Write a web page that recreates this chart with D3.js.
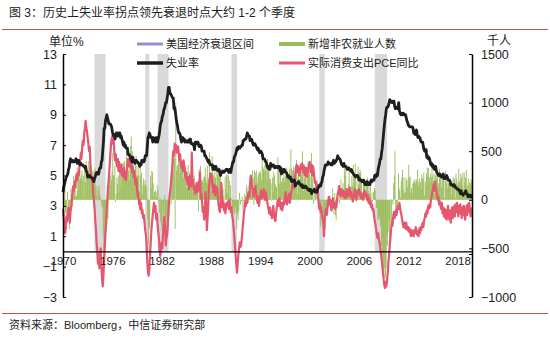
<!DOCTYPE html>
<html><head><meta charset="utf-8">
<script src="https://cdn.jsdelivr.net/npm/d3@7"></script>
<style>
body{margin:0;background:#fff;}
text{font-family:"Liberation Sans",Arial,"Noto Sans CJK SC",sans-serif;}
</style></head><body>
<svg id="c" width="550" height="340"></svg>
<script>
// ---- data ----
const startYear = 1970; // monthly series start Jan 1970
const xTicks = [1970,1976,1982,1988,1994,2000,2006,2012,2018];
const leftTicks = [13,11,9,7,5,3,1,-1,-3];
const rightTicks = [1500,1000,500,0,-500,-1000];
const recessions = [[1973.83,1975.17],[1980.0,1980.5],[1981.5,1982.83],[1990.5,1991.17],[2001.17,2001.83],[2007.92,2009.42]];

const unemployment = [
3.9,4.2,4.4,4.6,4.8,4.9,5.0,5.1,5.4,5.5,5.9,6.1,
5.9,5.9,6.0,5.9,5.9,5.9,6.0,6.1,6.0,5.8,6.0,6.0,
5.8,5.7,5.8,5.7,5.7,5.7,5.6,5.6,5.5,5.6,5.3,5.2,
4.9,5.0,4.9,5.0,4.9,4.9,4.8,4.8,4.8,4.6,4.8,4.9,
5.1,5.2,5.1,5.1,5.1,5.4,5.5,5.5,5.9,6.0,6.6,7.2,
8.1,8.1,8.6,8.8,9.0,8.8,8.6,8.4,8.4,8.4,8.3,8.2,
7.9,7.7,7.6,7.7,7.4,7.6,7.8,7.8,7.6,7.7,7.8,7.8,
7.5,7.6,7.4,7.2,7.0,7.2,6.9,7.0,6.8,6.8,6.8,6.4,
6.4,6.3,6.3,6.1,6.0,5.9,6.2,5.9,6.0,5.8,5.9,6.0,
5.9,5.9,5.8,5.8,5.6,5.7,5.7,6.0,5.9,6.0,5.9,6.0,
6.3,6.3,6.3,6.9,7.5,7.6,7.8,7.7,7.5,7.5,7.5,7.2,
7.5,7.4,7.4,7.2,7.5,7.5,7.2,7.4,7.6,7.9,8.3,8.5,
8.6,8.9,9.0,9.3,9.4,9.6,9.8,9.8,10.1,10.4,10.8,10.8,
10.4,10.4,10.3,10.2,10.1,10.1,9.4,9.5,9.2,8.8,8.5,8.3,
8.0,7.8,7.8,7.7,7.4,7.2,7.5,7.5,7.3,7.4,7.2,7.3,
7.3,7.2,7.2,7.3,7.2,7.4,7.4,7.1,7.1,7.1,7.0,7.0,
6.7,7.2,7.2,7.1,7.2,7.2,7.0,6.9,7.0,7.0,6.9,6.6,
6.6,6.6,6.6,6.3,6.3,6.2,6.1,6.0,5.9,6.0,5.8,5.7,
5.7,5.7,5.7,5.4,5.6,5.4,5.4,5.6,5.4,5.4,5.3,5.3,
5.4,5.2,5.0,5.2,5.2,5.3,5.2,5.2,5.3,5.3,5.4,5.4,
5.4,5.3,5.2,5.4,5.4,5.2,5.5,5.7,5.9,5.9,6.2,6.3,
6.4,6.6,6.8,6.7,6.9,6.9,6.8,6.9,6.9,7.0,7.0,7.3,
7.3,7.4,7.4,7.4,7.6,7.8,7.7,7.6,7.6,7.3,7.4,7.4,
7.3,7.1,7.0,7.1,7.1,7.0,6.9,6.8,6.7,6.8,6.6,6.5,
6.6,6.6,6.5,6.4,6.1,6.1,6.1,6.0,5.9,5.8,5.6,5.5,
5.6,5.4,5.4,5.8,5.6,5.6,5.7,5.7,5.6,5.5,5.6,5.6,
5.6,5.5,5.5,5.6,5.6,5.3,5.5,5.1,5.2,5.2,5.4,5.4,
5.3,5.2,5.2,5.1,4.9,5.0,4.9,4.8,4.9,4.7,4.6,4.7,
4.6,4.6,4.7,4.3,4.4,4.5,4.5,4.5,4.6,4.5,4.4,4.4,
4.3,4.4,4.2,4.3,4.2,4.3,4.3,4.2,4.2,4.1,4.1,4.0,
4.0,4.1,4.0,3.8,4.0,4.0,4.0,4.1,3.9,3.9,3.9,3.9,
4.2,4.2,4.3,4.4,4.3,4.5,4.6,4.9,5.0,5.3,5.5,5.7,
5.7,5.7,5.7,5.9,5.8,5.8,5.8,5.7,5.7,5.7,5.9,6.0,
5.8,5.9,5.9,6.0,6.1,6.3,6.2,6.1,6.1,6.0,5.8,5.7,
5.7,5.6,5.8,5.6,5.6,5.6,5.5,5.4,5.4,5.5,5.4,5.4,
5.3,5.4,5.2,5.2,5.1,5.0,5.0,4.9,5.0,5.0,5.0,4.9,
4.7,4.8,4.7,4.7,4.6,4.6,4.7,4.7,4.5,4.4,4.5,4.4,
4.6,4.5,4.4,4.5,4.4,4.6,4.7,4.6,4.7,4.7,4.7,5.0,
5.0,4.9,5.1,5.0,5.4,5.6,5.8,6.1,6.1,6.5,6.8,7.3,
7.8,8.3,8.7,9.0,9.4,9.5,9.5,9.6,9.8,10.0,9.9,9.9,
9.8,9.8,9.9,9.9,9.6,9.4,9.4,9.5,9.5,9.4,9.8,9.3,
9.1,9.0,9.0,9.1,9.0,9.1,9.0,9.0,9.0,8.8,8.6,8.5,
8.3,8.3,8.2,8.2,8.2,8.2,8.2,8.1,7.8,7.8,7.7,7.9,
8.0,7.7,7.5,7.6,7.5,7.5,7.3,7.2,7.2,7.2,6.9,6.7,
6.6,6.7,6.7,6.2,6.3,6.1,6.2,6.1,5.9,5.7,5.8,5.6,
5.7,5.5,5.4,5.4,5.6,5.3,5.2,5.1,5.0,5.0,5.1,5.0,
4.9,4.9,5.0,5.1,4.8,4.9,4.8,4.9,5.0,4.9,4.7,4.7,
4.7,4.6,4.4,4.4,4.4,4.3,4.3,4.4,4.3,4.2,4.2,4.1,
4.1,4.1,4.0,4.0,3.8,4.0,3.8,3.8,3.7,3.8,3.8,3.9,
4.0,3.8,3.8,3.6,3.6,3.7,3.7,3.7,3.5];

const payrolls = [
14,-60,150,-130,-150,-100,80,-80,-50,-300,-40,120,
50,-70,20,250,180,100,30,40,330,90,230,200,
300,220,250,300,200,250,50,330,180,400,260,270,
300,400,350,200,200,300,150,300,150,300,320,150,
50,140,-10,100,150,60,30,-20,-60,-90,-370,-600,
-450,-380,-300,-150,150,-200,80,300,150,250,200,300,
480,250,250,350,-20,60,230,160,250,70,350,280,
140,300,380,330,380,400,300,230,500,270,360,300,
200,380,550,650,300,500,300,250,250,400,450,250,
250,380,250,-110,350,250,280,60,150,220,150,200,
160,130,20,-200,-450,-300,-280,250,120,300,280,170,
30,80,100,80,30,150,100,-20,-130,20,-230,-270,
-320,-40,-140,-300,50,-220,-350,-170,-230,-270,-160,20,
150,-50,180,300,280,400,430,-300,1000,300,350,360,
430,470,280,370,350,380,300,230,320,280,350,120,
280,130,360,200,280,130,200,200,230,210,220,250,
120,100,60,180,120,-120,320,100,350,180,200,200,
170,230,240,330,220,180,350,170,220,490,230,290,
90,450,270,250,220,360,230,120,350,260,340,300,
260,250,190,170,120,110,40,0,240,110,260,60,
260,240,200,30,150,20,-40,-200,-80,-150,-130,-60,
-120,-300,-150,-210,-120,70,-50,-20,-10,30,-120,-10,
60,-60,40,150,120,80,80,150,20,160,180,200,
300,230,-50,300,280,180,300,170,230,270,280,300,
270,200,450,340,320,300,360,300,350,200,420,290,
350,220,210,170,-10,230,80,290,250,160,140,130,
-30,440,290,160,310,290,180,190,220,230,270,180,
240,310,330,280,260,250,320,20,520,320,300,300,
340,180,150,280,410,240,60,330,210,210,280,340,
250,500,90,370,220,260,320,160,220,390,260,300,
240,120,480,280,210,-40,140,-10,120,0,200,130,
-20,70,-40,-280,-40,-130,-10,-150,-250,-330,-290,-170,
-130,-140,-20,-80,-10,40,-110,0,-90,120,10,-150,
70,-160,-210,-20,-20,-10,20,-40,100,210,10,120,
170,40,330,250,310,80,40,120,160,350,70,130,
140,240,140,360,170,250,370,190,70,80,340,160,
280,310,280,180,20,80,200,180,160,0,210,170,
230,90,190,60,140,70,-30,-20,80,80,120,100,
20,-80,-80,-210,-190,-170,-210,-270,-460,-480,-730,-700,
-790,-700,-800,-700,-370,-470,-330,-220,-460,-220,10,-270,
-10,-50,170,250,500,-140,-70,-30,-60,270,120,90,
20,190,230,310,100,230,70,80,230,200,130,210,
360,230,240,80,120,60,160,190,180,210,170,210,
190,310,140,190,220,180,110,260,220,210,280,40,
190,170,270,330,240,330,230,170,270,230,340,250,
190,270,70,250,330,210,260,170,140,320,230,270,
130,230,240,200,20,280,300,170,250,120,170,150,
200,200,50,200,150,230,190,220,20,270,220,150,
180,320,180,200,270,230,150,280,110,280,180,230,
310,20,150,220,60,180,160,210,180];

const pce = [
2.8,2.2,1.8,1.2,1.5,2.3,2.0,2.5,2.9,2.4,1.9,2.6,
3.0,3.4,3.9,4.3,4.0,4.6,4.2,4.8,5.1,4.7,5.2,5.0,
5.6,5.9,6.5,6.1,6.9,7.3,7.0,7.8,8.1,8.6,8.2,7.9,
7.5,7.1,6.6,6.9,5.8,5.2,4.6,4.9,3.8,3.4,2.9,2.1,
1.5,0.6,0.1,-0.8,-0.2,-1.1,-0.4,0.2,-0.9,-1.8,-2.3,-1.6,
-0.6,0.3,1.2,1.8,2.9,3.6,4.3,4.9,5.6,6.3,7.0,7.4,
7.6,7.1,7.3,6.5,6.0,6.4,5.8,5.6,6.1,5.3,5.9,5.5,
5.2,5.7,5.0,5.4,4.9,5.5,4.8,5.2,4.7,5.3,5.8,6.1,
5.6,5.9,6.3,5.5,5.9,5.2,5.6,4.9,5.3,4.7,4.4,4.8,
4.2,3.6,3.9,3.1,3.4,2.8,3.2,2.5,2.7,2.2,2.4,1.9,
1.4,1.1,0.5,-0.7,-1.3,-1.6,-1.2,-0.3,0.6,1.4,1.9,2.4,
2.9,3.2,2.6,3.0,2.1,2.5,1.8,1.3,0.9,0.1,-0.3,0.2,
0.6,0.2,1.2,1.8,2.3,1.6,0.4,0.9,1.1,1.7,2.6,3.4,
3.8,4.2,4.8,5.3,5.9,6.6,6.3,7.1,6.8,7.0,6.5,6.7,
6.9,6.4,6.0,6.4,5.7,5.5,5.9,5.3,6.0,5.6,5.1,4.8,
5.2,4.6,4.4,4.9,4.1,4.6,5.0,4.3,6.5,4.8,4.5,4.1,
4.3,3.8,4.1,4.5,3.9,4.2,4.6,4.0,5.2,3.5,3.8,3.3,
2.6,2.9,2.1,2.5,3.9,3.2,1.4,2.2,3.0,4.2,4.7,5.1,
4.8,5.1,4.3,3.9,4.4,4.0,3.7,4.3,3.9,4.2,3.5,3.1,
2.8,2.6,3.0,4.5,3.6,2.9,3.3,2.7,3.1,2.5,2.9,3.2,
3.0,3.3,2.8,3.4,3.1,2.6,2.9,2.3,2.1,1.6,1.0,0.4,
-0.3,-0.9,-1.4,-0.8,-0.2,0.2,0.6,0.3,0.4,0.9,1.4,1.9,
2.5,2.8,3.3,3.0,3.5,3.2,3.7,3.9,3.6,4.4,5.0,4.6,
4.3,4.0,3.6,4.1,3.8,4.3,3.7,3.4,3.2,3.6,3.0,3.4,
3.7,4.0,3.5,3.9,3.6,4.1,3.8,3.4,3.9,3.6,3.3,3.0,
2.8,2.5,2.9,2.4,2.6,2.2,2.7,3.0,2.4,2.1,2.0,2.5,
2.9,3.2,3.4,3.0,3.5,3.1,2.8,3.2,2.7,3.0,3.3,3.1,
3.5,3.9,3.4,3.1,3.6,3.3,3.8,3.2,3.5,3.9,4.1,4.4,
4.5,4.2,4.8,5.1,5.5,5.7,5.2,5.6,5.4,5.0,5.3,5.7,
5.4,5.8,5.5,5.2,5.6,5.0,5.3,5.5,4.9,5.2,5.4,5.7,
5.9,5.5,5.2,5.7,5.0,5.6,5.3,4.8,4.5,4.6,4.2,4.4,
3.6,3.3,2.8,3.1,2.6,2.9,2.4,2.1,1.8,1.0,2.2,2.6,
2.8,2.4,2.9,3.3,3.6,3.1,3.4,3.0,2.7,3.2,3.5,2.9,
3.2,2.8,3.1,2.9,3.4,3.8,4.0,4.3,3.8,3.6,4.1,3.9,
3.7,4.0,3.6,3.9,3.5,3.8,4.1,3.6,3.9,3.7,4.2,3.9,
3.6,3.9,3.5,3.3,3.7,3.6,4.1,3.9,3.4,3.7,4.0,3.8,
4.1,3.7,3.9,3.5,3.8,3.6,3.4,3.7,4.0,3.9,3.6,3.8,
3.4,3.7,3.2,3.5,3.1,3.3,2.9,3.1,2.7,2.8,2.4,2.0,
1.8,1.5,1.1,0.9,1.2,0.8,0.6,0.3,-0.1,-0.5,-0.9,-1.4,
-1.8,-2.2,-2.4,-2.0,-2.3,-1.9,-1.4,-0.7,-0.2,0.4,0.9,1.5,
2.0,1.7,2.3,2.6,2.2,2.5,2.7,2.4,2.9,3.0,2.8,3.2,
2.9,2.6,2.4,2.1,1.8,1.6,1.9,1.7,1.5,1.9,1.6,1.4,
1.6,1.3,1.5,1.2,1.0,1.4,1.1,1.3,1.0,1.4,1.2,1.6,
1.4,1.1,1.3,1.0,1.5,1.2,1.6,1.4,1.7,1.9,1.6,2.0,
2.2,2.5,2.3,2.7,2.5,3.0,2.8,3.1,2.9,3.4,3.6,3.9,
4.1,4.4,4.0,4.6,4.2,4.0,3.7,3.4,3.6,3.1,3.3,3.0,
2.8,3.2,2.5,2.9,2.3,2.8,2.2,2.7,2.1,2.6,3.0,2.4,
2.1,2.7,1.9,2.5,2.9,2.2,2.8,3.0,2.3,3.1,2.6,3.2,
2.8,2.3,3.0,2.5,3.1,2.6,2.2,2.9,2.4,3.0,2.5,2.1,
2.5,3.0,2.4,3.1,2.6,3.2,2.7,2.3,2.9];

// ---- chart ----
const svg = d3.select("#c");
const m = {l:63, r:472, t:54, b:297};
const x = d3.scaleLinear().domain([1970, 2019.75]).range([m.l, m.r]);
const yL = d3.scaleLinear().domain([-3, 13]).range([m.b, m.t]);
const yR = d3.scaleLinear().domain([-1000, 1500]).range([m.b, m.t]);
const tx = i => startYear + i / 12;

// title
svg.append("text").attr("x", 9).attr("y", 17).attr("font-size", 12).attr("fill", "#222")
  .text("图 3：历史上失业率拐点领先衰退时点大约 1-2 个季度");
svg.append("line").attr("x1", 2).attr("x2", 548).attr("y1", 29.5).attr("y2", 29.5)
  .attr("stroke", "#c0504d").attr("stroke-width", 1);
svg.append("line").attr("x1", 2).attr("x2", 548).attr("y1", 313.5).attr("y2", 313.5)
  .attr("stroke", "#c0504d").attr("stroke-width", 1);
svg.append("text").attr("x", 9).attr("y", 329).attr("font-size", 11).attr("fill", "#222")
  .text("资料来源：Bloomberg，中信证券研究部");

// recession bands
svg.append("g").selectAll("rect").data(recessions).join("rect")
  .attr("x", d => x(d[0])).attr("width", d => x(d[1]) - x(d[0]))
  .attr("y", yL(13)).attr("height", yL(0) - yL(13))
  .attr("fill", "#d9d9d9");

// payroll bars
const bw = x(startYear + 1/12) - x(startYear);
svg.append("g").selectAll("rect").data(payrolls).join("rect")
  .attr("x", (d, i) => x(tx(i)))
  .attr("width", bw + 0.2)
  .attr("y", d => Math.min(yR(d), yR(0)))
  .attr("height", d => Math.abs(yR(d) - yR(0)))
  .attr("fill", "#9bbb59");

// PCE line
svg.append("path").datum(pce)
  .attr("d", d3.line().x((d, i) => x(tx(i))).y(d => yL(d)))
  .attr("fill", "none").attr("stroke", "#e5576f").attr("stroke-width", 2.2)
  .attr("stroke-linejoin", "round");

// unemployment line
svg.append("path").datum(unemployment)
  .attr("d", d3.line().x((d, i) => x(tx(i))).y(d => yL(d)))
  .attr("fill", "none").attr("stroke", "#1f1f1f").attr("stroke-width", 2.8)
  .attr("stroke-linejoin", "round");

// x axis (at left value 0)
const xAxis = svg.append("g").attr("transform", `translate(0,${yL(0)})`)
  .call(d3.axisBottom(x).tickValues(xTicks).tickFormat(d3.format("d")).tickSize(0).tickPadding(5));
xAxis.select(".domain").attr("stroke", "#000").attr("stroke-width", 1.2);
xAxis.selectAll("text").attr("font-size", 11.5).attr("fill", "#222")
  .attr("font-family", "'Liberation Sans',Arial,sans-serif");
svg.append("line").attr("x1", m.r - 3).attr("x2", m.r).attr("y1", yL(0) + 3).attr("y2", yL(0) + 3)
  .attr("stroke", "#000");

// left axis
const lAx = svg.append("g").attr("transform", `translate(${m.l},0)`)
  .call(d3.axisLeft(yL).tickValues(leftTicks).tickFormat(d3.format("d")).tickSize(-3).tickPadding(6).tickSizeOuter(0));
lAx.select(".domain").attr("stroke", "#000").attr("stroke-width", 1.5);
lAx.selectAll("line").attr("stroke", "#000");
lAx.selectAll("text").attr("font-size", 12.5).attr("fill", "#222")
  .attr("font-family", "'Liberation Sans',Arial,sans-serif");

// right axis
const rAx = svg.append("g").attr("transform", `translate(${m.r},0)`)
  .call(d3.axisRight(yR).tickValues(rightTicks).tickFormat(d3.format("d")).tickSize(-3).tickPadding(9).tickSizeOuter(0));
rAx.select(".domain").attr("stroke", "#000").attr("stroke-width", 1.5);
rAx.selectAll("line").attr("stroke", "#000");
rAx.selectAll("text").attr("font-size", 12.5).attr("fill", "#222")
  .attr("font-family", "'Liberation Sans',Arial,sans-serif");

// axis units
svg.append("text").attr("x", 49).attr("y", 46).attr("font-size", 12).attr("fill", "#222").text("单位%");
svg.append("text").attr("x", 487).attr("y", 45).attr("font-size", 12).attr("fill", "#222").text("千人");

// legend
const legend = [
  {label:"美国经济衰退区间", color:"#9b8ccc", w:3, x:137, y:44},
  {label:"新增非农就业人数", color:"#9bbb59", w:4, x:279, y:44},
  {label:"失业率", color:"#1f1f1f", w:3.5, x:137, y:63},
  {label:"实际消费支出PCE同比", color:"#e5576f", w:3, x:279, y:63}
];
const lg = svg.append("g").selectAll("g").data(legend).join("g");
lg.append("line").attr("x1", d => d.x).attr("x2", d => d.x + 26)
  .attr("y1", d => d.y).attr("y2", d => d.y)
  .attr("stroke", d => d.color).attr("stroke-width", d => d.w);
lg.append("text").attr("x", d => d.x + 29).attr("y", d => d.y + 4)
  .attr("font-size", 11).attr("fill", "#222").text(d => d.label);
</script>
</body></html>
